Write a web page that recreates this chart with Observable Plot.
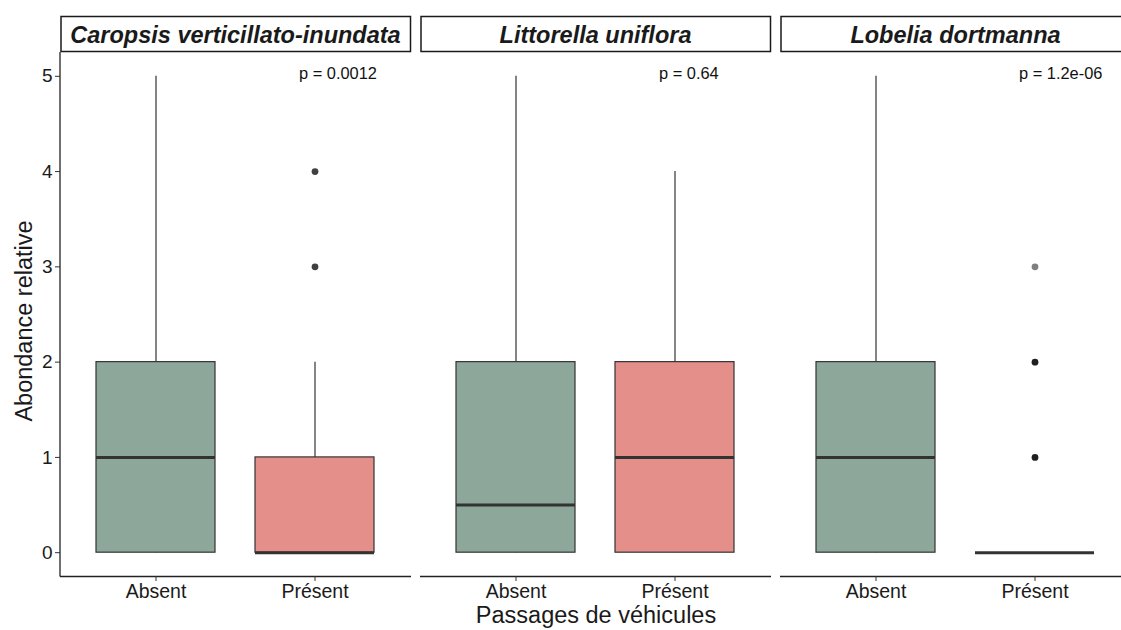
<!DOCTYPE html>
<html>
<head>
<meta charset="utf-8">
<script src="https://cdn.jsdelivr.net/npm/d3@7"></script>
<script src="https://cdn.jsdelivr.net/npm/@observablehq/plot@0.6"></script>
<style>
  html, body { margin: 0; padding: 0; background: #fff; }
  #chart { width: 1121px; height: 630px; overflow: hidden; }
  #chart svg { max-width: none !important; }
</style>
</head>
<body>
<div id="chart"></div>
<script>
// ---- Data ----
const species = ["Caropsis verticillato-inundata", "Littorella uniflora", "Lobelia dortmanna"];
const groups = ["Absent", "Présent"];
const yTicks = [0, 1, 2, 3, 4, 5];

// box summaries, one row per species x group
const boxSpecies = [species[0], species[0], species[1], species[1], species[2], species[2]];
const boxGroup   = ["Absent", "Présent", "Absent", "Présent", "Absent", "Présent"];
const lower  = [0, 0, 0, 0, 0, 0];
const q1     = [0, 0, 0, 0, 0, 0];
const median = [1, 0, 0.5, 1, 1, 0];
const q3     = [2, 1, 2, 2, 2, 0];
const upper  = [5, 2, 5, 4, 5, 0];

// outliers
const outSpecies = [species[0], species[0], species[2], species[2], species[2]];
const outGroup   = ["Présent", "Présent", "Présent", "Présent", "Présent"];
const outValue   = [4, 3, 1, 2, 3];
const outCount   = [2, 2, 3, 3, 1];

// p-values
const pLabels = ["p = 0.0012", "p = 0.64", "p = 1.2e-06"];

const xTitle = "Passages de véhicules";
const yTitle = "Abondance relative";

// ---- Build tables ----
const boxes = boxSpecies.map((s, i) => ({
  species: s, group: boxGroup[i], lower: lower[i], q1: q1[i],
  median: median[i], q3: q3[i], upper: upper[i]
}));
const outliers = outSpecies.map((s, i) => ({
  species: s, group: outGroup[i], value: outValue[i], n: outCount[i]
}));
const pvals = species.map((s, i) => ({species: s, group: "Présent", label: pLabels[i]}));

const font = "Liberation Sans, Arial, Helvetica, sans-serif";
const colors = {"Absent": "#8da89b", "Présent": "#e58f8a"};

const chart = Plot.plot({
  width: 1132,
  height: 630,
  marginLeft: 59,
  marginRight: 0,
  marginTop: 52,
  marginBottom: 54,
  style: {fontFamily: font, background: "#fff", color: "#1a1a1a", maxWidth: "none"},
  fx: {domain: species, paddingInner: 9 / 360.5, paddingOuter: 0, axis: null},
  x: {domain: groups, paddingInner: 0.25, paddingOuter: 0.225, axis: null},
  y: {domain: [-0.25, 5.25], axis: null},
  color: {domain: groups, range: groups.map(g => colors[g])},
  marks: [
    // whiskers
    Plot.ruleX(boxes, {fx: "species", x: "group", y1: "lower", y2: "upper", stroke: "#333", strokeWidth: 1.2}),
    // boxes
    Plot.barY(boxes, {fx: "species", x: "group", y1: "q1", y2: "q3", fill: "group", stroke: "#333", strokeWidth: 1.2}),
    // medians
    Plot.tickY(boxes, {fx: "species", x: "group", y: "median", stroke: "#333", strokeWidth: 3}),
    // outliers
    Plot.dot(outliers, {fx: "species", x: "group", y: "value", r: 3.4, fill: "#000", stroke: "none",
      fillOpacity: d => 1 - Math.pow(0.5, d.n)}),
    // p-values
    Plot.text(pvals, {fx: "species", x: "group", y: 5, text: "label", textAnchor: "start", dx: -16, dy: -3,
      fontSize: 16.4, fill: "#111"}),
    // bottom axis line per panel
    Plot.ruleY([-0.25], {stroke: "#222", strokeWidth: 1.3}),
    // axes
    Plot.axisY({ticks: yTicks, tickFormat: d => String(d), tickSize: 5, tickPadding: 3, fontSize: 19, label: null, stroke: "#333", fill: "#1a1a1a"}),
    Plot.axisX({tickSize: 5, tickPadding: 3, fontSize: 19.5, label: null, stroke: "#333", fill: "#1a1a1a"})
  ]
});

document.getElementById("chart").appendChild(chart);

// ---- Decorations from the plot's own scales ----
const svg = d3.select(chart);
const fxs = chart.scale("fx");
const ys = chart.scale("y");
const yTop = ys.apply(5.25), yBot = ys.apply(-0.25);
const left = fxs.apply(species[0]);

// left axis line (first panel only)
svg.append("line")
  .attr("x1", left).attr("x2", left)
  .attr("y1", yTop).attr("y2", yBot + 0.6)
  .attr("stroke", "#222").attr("stroke-width", 1.3);

// strips
species.forEach(sp => {
  const x0 = fxs.apply(sp);
  const w = fxs.bandwidth;
  svg.append("rect")
    .attr("x", x0 + 1).attr("y", 16.5)
    .attr("width", w - 1.5).attr("height", yTop - 17)
    .attr("fill", "#fff").attr("stroke", "#1a1a1a").attr("stroke-width", 1.5);
  svg.append("text")
    .attr("x", x0 + w / 2).attr("y", 43)
    .attr("text-anchor", "middle")
    .attr("font-family", font)
    .attr("font-size", 23.5)
    .attr("font-weight", "bold")
    .attr("font-style", "italic")
    .attr("fill", "#1a1a1a")
    .text(sp);
});

// axis titles
svg.append("text")
  .attr("x", (left + 1132) / 2).attr("y", 623)
  .attr("text-anchor", "middle")
  .attr("font-family", font).attr("font-size", 23.5).attr("fill", "#1a1a1a")
  .text(xTitle);
svg.append("text")
  .attr("transform", `translate(32,${(yTop + yBot) / 2 + 7}) rotate(-90)`)
  .attr("text-anchor", "middle")
  .attr("font-family", font).attr("font-size", 23.5).attr("fill", "#1a1a1a")
  .text(yTitle);
</script>
</body>
</html>
